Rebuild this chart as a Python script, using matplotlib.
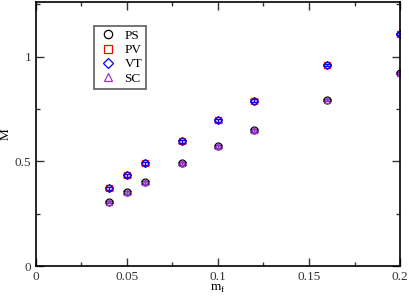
import numpy as np
import matplotlib.pyplot as plt
from matplotlib.ticker import MultipleLocator
from matplotlib.lines import Line2D

plt.rcParams['font.family'] = ['Liberation Serif', 'DejaVu Serif']

# datos
mf = [0.04, 0.05, 0.06, 0.08, 0.10, 0.12, 0.16, 0.20]
M_low = [0.305, 0.352, 0.400, 0.490, 0.571, 0.648, 0.792, 0.922]
M_high = [0.371, 0.433, 0.490, 0.595, 0.695, 0.790, 0.960, 1.108]
err = [0.006] * len(mf)

series = [
    ('PS', M_low, 'o', 'black'),
    ('PV', M_high, 's', 'red'),
    ('VT', M_high, 'D', 'blue'),
    ('SC', M_low, '^', '#9933cc'),
]

fig = plt.figure(figsize=(4.09, 2.99), dpi=100)
ax = fig.add_axes([0.088, 0.110, 0.890, 0.883])

handles = []
for name, vals, mk, col in series:
    ms = 4.5 if mk == 'D' else 5
    ax.errorbar(mf, vals, yerr=err, fmt=mk, mfc='none', mec=col, ms=ms,
                mew=0.9, ecolor=col, elinewidth=0.8, capsize=3, capthick=0.9)
    handles.append(Line2D([], [], ls='none', marker=mk, mfc='none', mec=col,
                          ms=ms + 1, mew=0.9, label=name))

ax.set_xlim(0, 0.2)
ax.set_ylim(0, 1.26)
ax.set_xticks([0, 0.05, 0.1, 0.15, 0.2])
ax.set_xticklabels(['0', '0.05', '0.1', '0.15', '0.2'])
ax.set_yticks([0, 0.5, 1])
ax.set_yticklabels(['0', '0.5', '1'])
ax.xaxis.set_minor_locator(MultipleLocator(0.025))
ax.yaxis.set_minor_locator(MultipleLocator(0.25))
ax.tick_params(which='both', direction='in', top=True, right=True,
               labelsize=9.5, width=1, colors='#333333', labelcolor='#333333')
ax.tick_params(which='major', length=6)
ax.tick_params(which='minor', length=3)
for sp in ax.spines.values():
    sp.set_linewidth(1.2)

ax.set_xlabel(r'm$_\mathregular{f}$', fontsize=9.5, labelpad=0)
ax.set_ylabel('M', fontsize=9.5, labelpad=2)

leg = ax.legend(handles=handles, loc='upper left', bbox_to_anchor=(0.16, 0.91),
                fontsize=9.5, frameon=True, fancybox=False, edgecolor='#333333',
                handletextpad=0.5, borderpad=0.3, labelspacing=0.15,
                handlelength=1.5, borderaxespad=0)
leg.get_frame().set_linewidth(1.2)

fig.savefig('out.png', dpi=100)
